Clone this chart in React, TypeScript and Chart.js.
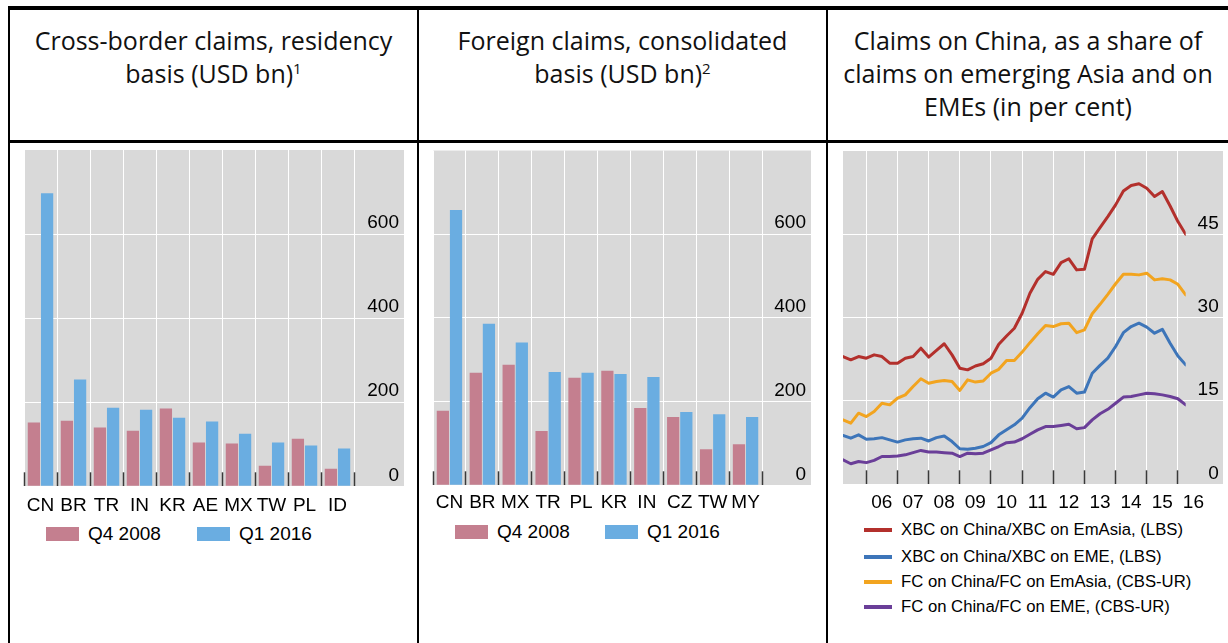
import React, { useEffect, useRef } from 'react';
import { Chart, registerables } from 'chart.js';

Chart.register(...registerables);

const FONT = "'Liberation Sans', Arial, Helvetica, sans-serif";
const TITLE_FONT = "'Open Sans', 'Noto Sans', sans-serif";

const PINK = '#C47F8F';
const BLUE = '#6AADE1';
const PLOT_BG = '#D9D9D9';
const TICK_DARK = '#3A3A3A';

// ---- Panel 1: cross-border claims, residency basis (USD bn)
const cbCountries = ['CN', 'BR', 'TR', 'IN', 'KR', 'AE', 'MX', 'TW', 'PL', 'ID'];
const cbQ42008 = [152, 156, 140, 132, 185, 104, 102, 49, 113, 42];
const cbQ12016 = [697, 254, 187, 182, 163, 154, 125, 104, 97, 90];

// ---- Panel 2: foreign claims, consolidated basis (USD bn)
const fcCountries = ['CN', 'BR', 'MX', 'TR', 'PL', 'KR', 'IN', 'CZ', 'TW', 'MY'];
const fcQ42008 = [178, 269, 288, 130, 257, 274, 185, 163, 86, 98];
const fcQ12016 = [658, 386, 341, 271, 269, 266, 259, 175, 170, 163];

const barSeriesLabels = ['Q4 2008', 'Q1 2016'];
const barTicks = [0, 200, 400, 600];

// ---- Panel 3: claims on China as a share (per cent)
const quarters = [
  '2005Q1', '2005Q2', '2005Q3', '2005Q4',
  '2006Q1', '2006Q2', '2006Q3', '2006Q4',
  '2007Q1', '2007Q2', '2007Q3', '2007Q4',
  '2008Q1', '2008Q2', '2008Q3', '2008Q4',
  '2009Q1', '2009Q2', '2009Q3', '2009Q4',
  '2010Q1', '2010Q2', '2010Q3', '2010Q4',
  '2011Q1', '2011Q2', '2011Q3', '2011Q4',
  '2012Q1', '2012Q2', '2012Q3', '2012Q4',
  '2013Q1', '2013Q2', '2013Q3', '2013Q4',
  '2014Q1', '2014Q2', '2014Q3', '2014Q4',
  '2015Q1', '2015Q2', '2015Q3', '2015Q4',
  '2016Q1',
];
const xbcEmAsia = [23.0, 22.4, 23.0, 22.7, 23.3, 23.0, 21.8, 21.8, 22.7, 23.0, 24.5, 22.9, 24.1, 25.3, 23.3, 20.9, 20.6, 21.3, 21.7, 22.7, 25.2, 26.7, 28.1, 30.8, 34.4, 36.9, 38.3, 37.8, 39.9, 40.6, 38.6, 38.7, 44.2, 46.2, 48.2, 50.3, 52.8, 53.8, 54.1, 53.3, 51.8, 52.7, 50.1, 47.3, 45.0];
const xbcEme = [8.8, 8.3, 8.9, 8.1, 8.2, 8.4, 8.0, 7.6, 8.0, 8.2, 8.3, 7.8, 8.4, 8.7, 7.7, 6.4, 6.3, 6.5, 6.8, 7.5, 8.9, 9.8, 10.7, 11.9, 13.8, 15.4, 16.4, 15.7, 17.0, 17.6, 16.4, 16.6, 20.0, 21.4, 22.7, 24.8, 27.3, 28.4, 29.0, 28.3, 27.2, 27.9, 25.4, 23.1, 21.5];
const fcEmAsia = [11.6, 11.0, 12.8, 12.2, 13.1, 14.6, 14.3, 15.5, 16.1, 17.6, 19.0, 18.2, 18.5, 18.7, 18.5, 16.9, 18.8, 18.4, 18.6, 20.0, 20.7, 22.3, 22.3, 23.8, 25.5, 27.1, 28.6, 28.4, 28.9, 29.0, 27.3, 27.8, 30.7, 32.4, 34.2, 36.1, 37.8, 37.8, 37.7, 38.0, 36.8, 37.0, 36.8, 36.0, 34.1];
const fcEme = [4.4, 3.7, 4.1, 3.9, 4.3, 5.0, 5.0, 5.1, 5.3, 5.7, 6.1, 5.8, 5.8, 5.7, 5.6, 5.0, 5.6, 5.5, 5.6, 6.2, 6.8, 7.5, 7.6, 8.2, 9.0, 9.8, 10.4, 10.4, 10.6, 10.8, 10.0, 10.2, 11.6, 12.7, 13.5, 14.6, 15.7, 15.8, 16.1, 16.4, 16.3, 16.1, 15.8, 15.4, 14.3];

const lineSeries = [
  { label: 'XBC on China/XBC on EmAsia, (LBS)', data: xbcEmAsia, color: '#B3302C' },
  { label: 'XBC on China/XBC on EME, (LBS)', data: xbcEme, color: '#3D75B9' },
  { label: 'FC on China/FC on EmAsia, (CBS-UR)', data: fcEmAsia, color: '#F2A41F' },
  { label: 'FC on China/FC on EME, (CBS-UR)', data: fcEme, color: '#6A3E98' },
];
const shareTicks = [0, 15, 30, 45];
const yearTicks = [2006, 2007, 2008, 2009, 2010, 2011, 2012, 2013, 2014, 2015, 2016];
const yearLabels = ['06', '07', '08', '09', '10', '11', '12', '13', '14', '15', '16'];

const quarterToX = (q: string) => Number(q.slice(0, 4)) + Number(q.slice(5)) / 4;

const plotBg = {
  id: 'plotBg',
  beforeDraw(chart: any) {
    const { ctx, chartArea } = chart;
    ctx.save();
    ctx.fillStyle = PLOT_BG;
    ctx.fillRect(chartArea.left, chartArea.top, chart.width - chartArea.left, chartArea.bottom - chartArea.top);
    ctx.restore();
  },
};

type Geo = { padL: number; padT: number; padR: number; padB: number; axisW: number; labelPad: number };

function yAxis(g: Geo, min: number, max: number, ticks: number[]) {
  return {
    position: 'right',
    min,
    max,
    afterBuildTicks: (s: any) => {
      s.ticks = ticks.map((v) => ({ value: v }));
    },
    afterFit: (s: any) => {
      s.width = g.axisW;
    },
    grid: { color: '#FFFFFF', lineWidth: 1, tickLength: g.axisW + g.padR, tickColor: '#FFFFFF', tickWidth: 1 },
    border: { display: false },
    ticks: {
      crossAlign: 'far',
      labelOffset: -11,
      padding: 0,
      color: '#000000',
      font: { family: FONT, size: 19 },
    },
  };
}

function barConfig(labels: string[], a: number[], b: number[], g: Geo) {
  return {
    type: 'bar',
    data: {
      labels,
      datasets: [
        { label: barSeriesLabels[0], data: a, backgroundColor: PINK, categoryPercentage: 0.8, barPercentage: 0.93 },
        { label: barSeriesLabels[1], data: b, backgroundColor: BLUE, categoryPercentage: 0.8, barPercentage: 0.93 },
      ],
    },
    options: {
      animation: false,
      responsive: false,
      maintainAspectRatio: false,
      layout: { padding: { left: g.padL, top: g.padT, right: g.padR, bottom: g.padB } },
      plugins: { legend: { display: false }, tooltip: { enabled: false } },
      scales: {
        x: {
          type: 'category',
          offset: true,
          grid: { offset: true, color: '#FFFFFF', lineWidth: 1, tickLength: -14, tickColor: TICK_DARK, tickWidth: 1.5 },
          border: { display: false },
          afterFit: (s: any) => {
            s.height = 30;
          },
          ticks: { autoSkip: false, maxRotation: 0, padding: g.labelPad, color: '#000000', font: { family: FONT, size: 19 } },
        },
        y: yAxis(g, 0, 800, barTicks),
      },
    },
    plugins: [plotBg],
  };
}

function lineConfig(g: Geo) {
  return {
    type: 'line',
    data: {
      datasets: lineSeries.map((s) => ({
        label: s.label,
        data: quarters.map((q, i) => ({ x: quarterToX(q), y: s.data[i] })),
        borderColor: s.color,
        backgroundColor: s.color,
        borderWidth: 3,
        pointRadius: 0,
        tension: 0,
        borderJoinStyle: 'round',
        borderCapStyle: 'round',
      })),
    },
    options: {
      animation: false,
      responsive: false,
      maintainAspectRatio: false,
      layout: { padding: { left: g.padL, top: g.padT, right: g.padR, bottom: g.padB } },
      plugins: { legend: { display: false }, tooltip: { enabled: false } },
      scales: {
        x: {
          type: 'linear',
          min: quarterToX(quarters[0]),
          max: quarterToX(quarters[quarters.length - 1]),
          afterBuildTicks: (s: any) => {
            s.ticks = yearTicks.map((v) => ({ value: v }));
          },
          afterFit: (s: any) => {
            s.height = 30;
          },
          grid: { color: '#FFFFFF', lineWidth: 1, tickLength: -14, tickColor: TICK_DARK, tickWidth: 1.5 },
          border: { display: false },
          ticks: {
            autoSkip: false,
            maxRotation: 0,
            labelOffset: 15.5,
            padding: g.labelPad,
            color: '#000000',
            font: { family: FONT, size: 19 },
            callback: (v: number) => yearLabels[yearTicks.indexOf(v)],
          },
        },
        y: yAxis(g, 0, 60, shareTicks),
      },
    },
    plugins: [plotBg],
  };
}

const CANVAS_TOP = 120;
const CANVAS_H = 400;

const panels = [
  { left: 0, width: 404, geo: { padL: 24, padT: 30, padR: 5, padB: 3.7, axisW: 45, labelPad: 22.5 } },
  { left: 409, width: 402, geo: { padL: 24, padT: 30.5, padR: 5, padB: 4.7, axisW: 44, labelPad: 20.5 } },
  { left: 819, width: 404, geo: { padL: 24, padT: 31, padR: 4.3, padB: 5.7, axisW: 33, labelPad: 21.5 } },
];

const abs = (l: number, t: number, w: number, h: number, extra: any = {}) => ({
  position: 'absolute' as const,
  left: l,
  top: t,
  width: w,
  height: h,
  ...extra,
});

function BarLegend({ x1, t1, x2, t2, y }: { x1: number; t1: number; x2: number; t2: number; y: number }) {
  return (
    <>
      <div style={abs(x1, y - 7, 33, 14, { background: PINK })} />
      <div style={abs(t1, y - 11, 120, 22, { font: `19px ${FONT}`, lineHeight: '22px', color: '#000' })}>{barSeriesLabels[0]}</div>
      <div style={abs(x2, y - 7, 33, 14, { background: BLUE })} />
      <div style={abs(t2, y - 11, 120, 22, { font: `19px ${FONT}`, lineHeight: '22px', color: '#000' })}>{barSeriesLabels[1]}</div>
    </>
  );
}

export default function App() {
  const r1 = useRef<HTMLCanvasElement>(null);
  const r2 = useRef<HTMLCanvasElement>(null);
  const r3 = useRef<HTMLCanvasElement>(null);

  useEffect(() => {
    const c1 = new Chart(r1.current as any, barConfig(cbCountries, cbQ42008, cbQ12016, panels[0].geo) as any);
    const c2 = new Chart(r2.current as any, barConfig(fcCountries, fcQ42008, fcQ12016, panels[1].geo) as any);
    const c3 = new Chart(r3.current as any, lineConfig(panels[2].geo) as any);
    return () => {
      c1.destroy();
      c2.destroy();
      c3.destroy();
    };
  }, []);

  const titleStyle = (l: number, w: number) =>
    abs(l, 24, w, 110, {
      textAlign: 'center',
      font: `25px ${TITLE_FONT}`,
      lineHeight: '33px',
      color: '#111',
    });
  const sup = { fontSize: 15, position: 'relative' as const, top: -9 };
  const refs = [r1, r2, r3];
  const legendRows = [530, 556.5, 581.5, 607];

  return (
    <div style={abs(0, 0, 1228, 643, { background: '#FFFFFF', overflow: 'hidden' })}>
      <div style={titleStyle(10, 407)}>
        Cross-border claims, residency
        <br />
        basis (USD bn)<span style={sup}>1</span>
      </div>
      <div style={titleStyle(419, 407)}>
        Foreign claims, consolidated
        <br />
        basis (USD bn)<span style={sup}>2</span>
      </div>
      <div style={titleStyle(828, 400)}>
        Claims on China, as a share of
        <br />
        claims on emerging Asia and on
        <br />
        EMEs (in per cent)
      </div>

      {panels.map((p, i) => (
        <canvas
          key={i}
          ref={refs[i]}
          width={p.width}
          height={CANVAS_H}
          style={abs(p.left, CANVAS_TOP, p.width, CANVAS_H)}
        />
      ))}

      <BarLegend x1={46} t1={88} x2={197} t2={239} y={534} />
      <BarLegend x1={455} t1={497} x2={605} t2={647} y={532} />

      {lineSeries.map((s, i) => (
        <React.Fragment key={s.label}>
          <div style={abs(864, legendRows[i] - 2, 28, 4, { background: s.color })} />
          <div style={abs(901, legendRows[i] - 10, 320, 20, { font: `16.7px ${FONT}`, lineHeight: '20px', color: '#000', whiteSpace: 'nowrap' })}>
            {s.label}
          </div>
        </React.Fragment>
      ))}

      {/* table rules */}
      <div style={abs(8, 6, 1220, 4, { background: '#000' })} />
      <div style={abs(8, 6, 2, 637, { background: '#000' })} />
      <div style={abs(417, 6, 2, 637, { background: '#000' })} />
      <div style={abs(826, 6, 2, 637, { background: '#000' })} />
      <div style={abs(8, 140, 1220, 3, { background: '#000' })} />
    </div>
  );
}
